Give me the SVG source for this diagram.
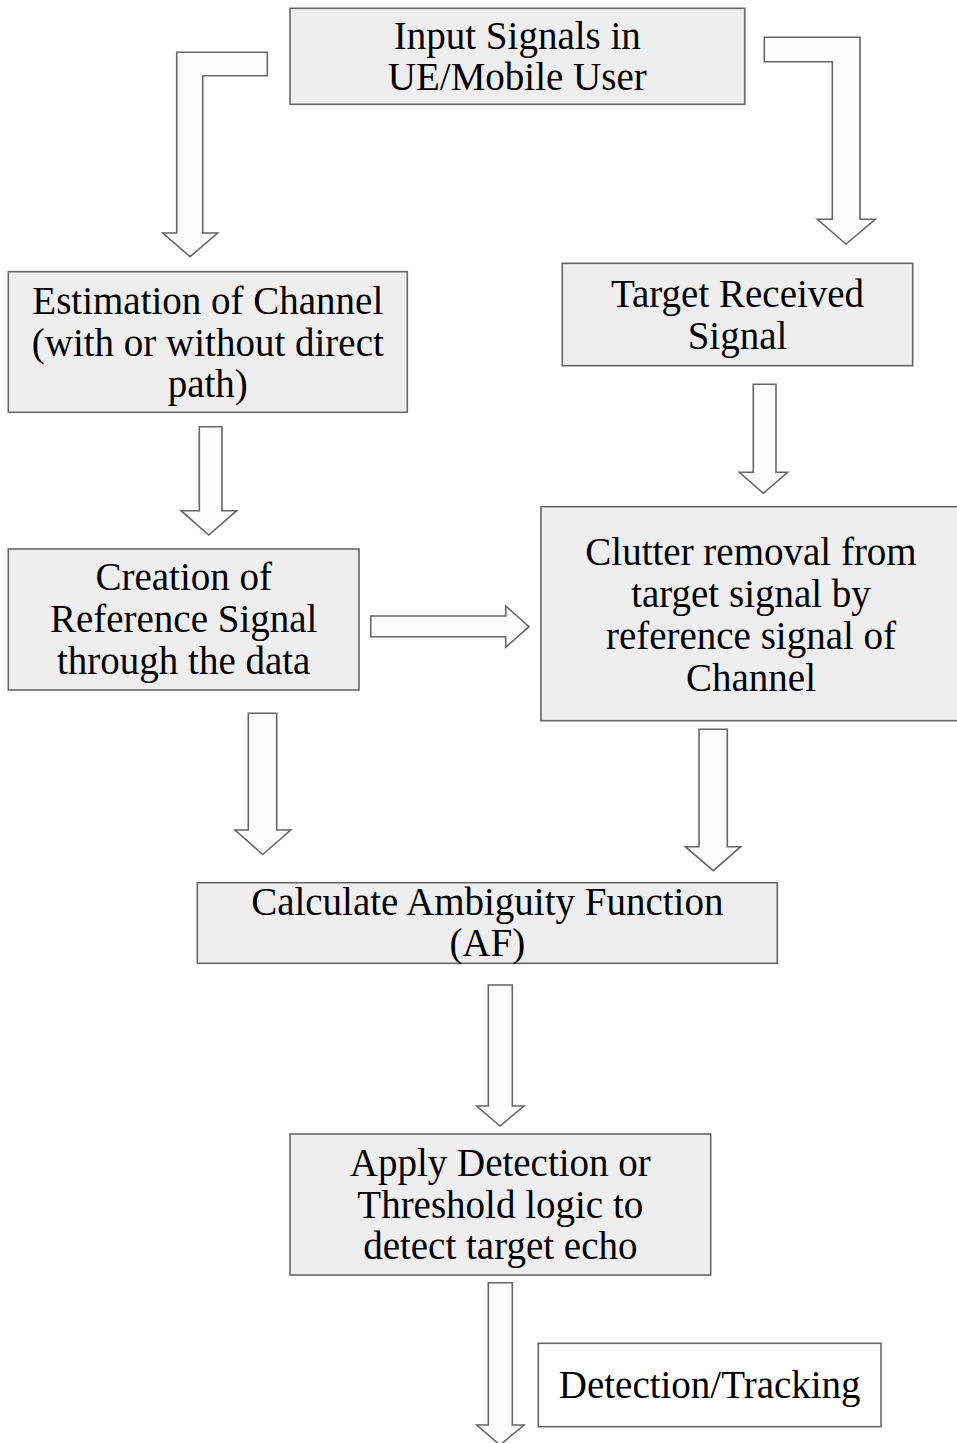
<svg xmlns="http://www.w3.org/2000/svg" width="957" height="1443" viewBox="0 0 957 1443">
  <style>
    .box { fill: #eeeeee; stroke: #666666; stroke-width: 1.6; }
    .plain { fill: #ffffff; stroke: #666666; stroke-width: 1.6; }
    .arrow { fill: #fdfdfd; stroke: #666666; stroke-width: 1.6; stroke-linejoin: miter; }
    text { font-family: "Liberation Serif", "Times New Roman", serif; font-size: 39px; fill: #000000; text-anchor: middle; }
  </style>
  <rect width="957" height="1443" fill="#ffffff"/>

  <!-- block arrows between the steps -->
  <g id="connectors">
    <!-- bent arrow: input -> channel estimation -->
    <path class="arrow" d="M267.3,52.3 H176.7 V233 H162.7 L190,256.7 L217.7,233 H202.7 V75.7 H267.3 Z"/>
    <!-- bent arrow: input -> target received signal -->
    <path class="arrow" d="M764.3,37.3 H860 V219.3 H875.3 L846,244 L817.3,219.3 H832.3 V61.7 H764.3 Z"/>
    <!-- estimation -> creation of reference -->
    <path class="arrow" d="M199.3,426.7 H222 V510.7 H236.7 L208.7,535 L181,510.7 H199.3 Z"/>
    <!-- target received -> clutter removal -->
    <path class="arrow" d="M753.3,384.3 H776 V472.3 H787.7 L763.3,493.3 L739.3,472.3 H753.3 Z"/>
    <!-- reference -> clutter removal -->
    <path class="arrow" d="M370.7,616 H505.7 V606 L529,626.7 L505.7,647.3 V636.7 H370.7 Z"/>
    <!-- reference -> ambiguity function -->
    <path class="arrow" d="M248.3,713.3 H276.7 V830 H290.7 L262.7,854.5 L235,830 H248.3 Z"/>
    <!-- clutter removal -> ambiguity function -->
    <path class="arrow" d="M699,729.3 H727.3 V846.7 H740.7 L713.3,870.7 L685.3,846.7 H699 Z"/>
    <!-- ambiguity function -> detection logic -->
    <path class="arrow" d="M488.3,985 H512.3 V1106 H524 L500,1126 L476.7,1106 H488.3 Z"/>
    <!-- detection logic -> output -->
    <path class="arrow" d="M488.3,1282.7 H512.3 V1425 H524 L500,1445 L476.7,1425 H488.3 Z"/>
  </g>

  <g id="input">
    <rect class="box" x="290" y="8.3" width="454.7" height="96"/>
    <text x="517.3" y="49">Input Signals in</text>
    <text x="517.3" y="90">UE/Mobile User</text>
  </g>

  <g id="estimation">
    <rect class="box" x="8.3" y="271.7" width="399" height="140.6"/>
    <text x="207.8" y="314">Estimation of Channel</text>
    <text x="207.8" y="356">(with or without direct</text>
    <text x="207.8" y="397">path)</text>
  </g>

  <g id="target">
    <rect class="box" x="562.3" y="263.3" width="350.4" height="102.4"/>
    <text x="737.5" y="307">Target Received</text>
    <text x="737.5" y="349">Signal</text>
  </g>

  <g id="reference">
    <rect class="box" x="8.3" y="549" width="350.7" height="141"/>
    <text x="183.7" y="590">Creation of</text>
    <text x="183.7" y="632">Reference Signal</text>
    <text x="183.7" y="674">through the data</text>
  </g>

  <g id="clutter">
    <rect class="box" x="541" y="506.7" width="418" height="214"/>
    <text x="751" y="565">Clutter removal from</text>
    <text x="751" y="607">target signal by</text>
    <text x="751" y="649">reference signal of</text>
    <text x="751" y="691">Channel</text>
  </g>

  <g id="ambiguity">
    <rect class="box" x="197.3" y="882.7" width="580" height="80.6"/>
    <text x="487.3" y="915">Calculate Ambiguity Function</text>
    <text x="487.3" y="956">(AF)</text>
  </g>

  <g id="threshold">
    <rect class="box" x="290" y="1134" width="420.7" height="141"/>
    <text x="500.3" y="1176">Apply Detection or</text>
    <text x="500.3" y="1218">Threshold logic to</text>
    <text x="500.3" y="1259">detect target echo</text>
  </g>

  <g id="tracking">
    <rect class="plain" x="538.3" y="1343.3" width="342.7" height="83.4"/>
    <text x="709.7" y="1398">Detection/Tracking</text>
  </g>
</svg>
